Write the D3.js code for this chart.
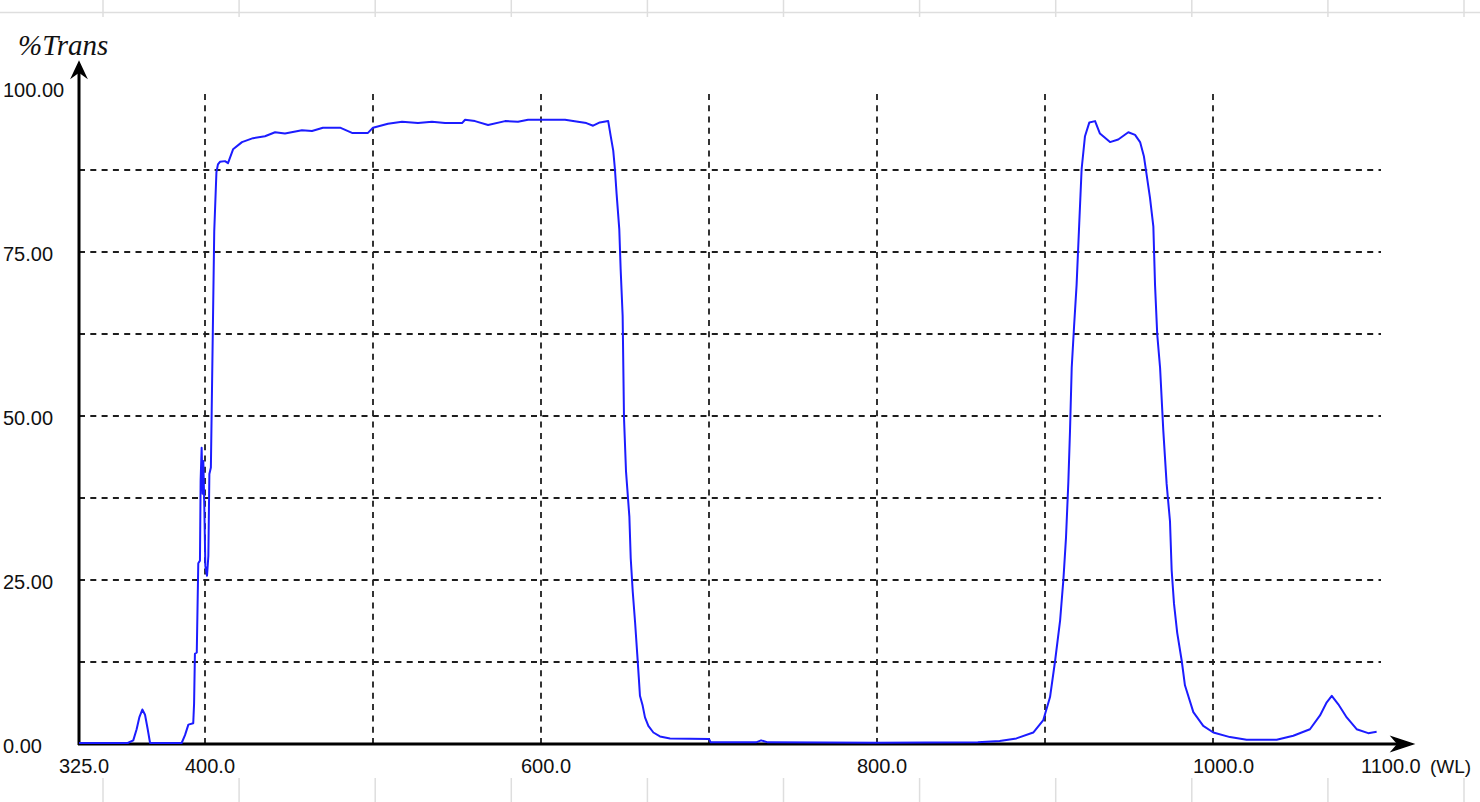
<!DOCTYPE html>
<html>
<head>
<meta charset="utf-8">
<script src="https://d3js.org/d3.v7.min.js"></script>
<style>
  html, body { margin: 0; padding: 0; background: #fff; }
  svg { display: block; }
  .tick-label { font-family: "Liberation Sans", Arial, sans-serif; font-size: 20px; fill: #111; }
</style>
</head>
<body>
<div id="trans-chart"></div>
<script>
// Spectrum: wavelength (nm) and %T
var wavelengths = [
  325, 354, 357.3, 359.3, 360.9, 362.7, 364.3, 365.9, 367.3, 386.1,
  388.1, 390.1, 393, 393.5, 394, 395.1, 396, 397, 397.4, 398,
  398.6, 399, 399.6, 400.2, 401.2, 402, 402.6, 403.5, 404.5, 405.5,
  406.8, 407.7, 408.9, 411.9, 413.7, 416.7, 422, 428.6, 435.7, 441.7,
  447.6, 457.7, 463.7, 470.2, 480.4, 487.5, 497, 500, 508.9, 517.3,
  526.8, 535.1, 542.9, 553, 554.8, 560.7, 568.5, 578.6, 586.3, 592.3,
  602.4, 614.3, 622, 627, 631, 635, 640, 641.5, 643, 644,
  645, 646.6, 647.4, 648.6, 649.4, 650.6, 652.6, 653.4, 654.6, 656,
  657.3, 658.2, 658.9, 660.5, 661.9, 663.9, 666.9, 670.8, 676.8, 700,
  701, 728, 731, 735, 800, 860, 873, 883, 893, 899,
  903, 906, 909, 911, 912.5, 913.9, 914.9, 915.9, 917.3, 918.8,
  920.4, 921.8, 923.8, 926.4, 929.8, 932.7, 938.7, 943.6, 949.6, 953.6,
  956.6, 958.9, 960.5, 962.5, 964.5, 965.5, 966.8, 968.5, 970.4, 972.4,
  974.4, 975.4, 976.8, 978.7, 981.4, 983.3, 988.3, 994.2, 1000.2, 1010.1,
  1020, 1037.9, 1047.8, 1057.7, 1063.7, 1067.7, 1070.7, 1074.6, 1079.6, 1085.5,
  1092.4, 1097.4
];

var transmittance = [
  0, 0, 0.4, 2.1, 3.9, 5.1, 4.3, 2.1, 0, 0,
  1.2, 2.8, 3.0, 6.0, 13.6, 13.8, 27.4, 27.8, 40, 45,
  38, 43, 36, 27, 25.5, 28.5, 41, 42, 60, 78,
  87, 88.2, 88.6, 88.7, 88.4, 90.5, 91.6, 92.2, 92.5, 93.1,
  92.9, 93.4, 93.3, 93.8, 93.8, 93.0, 93.0, 93.8, 94.4, 94.7,
  94.5, 94.7, 94.5, 94.5, 95, 94.8, 94.2, 94.8, 94.7, 95,
  95, 95, 94.7, 94.5, 94.1, 94.6, 94.8, 92.5, 90.3, 87.5,
  83.7, 78.3, 72.3, 65.1, 49.6, 41.4, 34.5, 28.2, 23.1, 18.4,
  13.5, 10, 7.2, 5.7, 3.9, 2.6, 1.6, 1.0, 0.7, 0.6,
  0.1, 0.1, 0.4, 0.1, 0.05, 0.1, 0.3, 0.7, 1.6, 3.5,
  7, 12.5, 18.7, 25.1, 31.3, 39.8, 47.7, 57.2, 63.5, 69.8,
  79.3, 87.5, 92.5, 94.6, 94.8, 92.9, 91.6, 92, 93.1, 92.7,
  91.6, 89.4, 86.6, 83.1, 78.7, 69.8, 62.3, 57.2, 47.7, 39.5,
  33.8, 26.3, 21.2, 16.8, 12.5, 8.8, 4.7, 2.6, 1.6, 0.9,
  0.5, 0.5, 1.1, 2.1, 4.2, 6.2, 7.2, 5.9, 3.9, 2.1,
  1.5, 1.7
];

var xTicks = [325, 400, 600, 800, 1000, 1100];
var yTicks = [0, 25, 50, 75, 100];
var xGrid = [400, 500, 600, 700, 800, 900, 1000];
var yGrid = [12.5, 25, 37.5, 50, 62.5, 75, 87.5];

var width = 1480,
    height = 802;

var svg = d3.select('#trans-chart')
            .append('svg')
            .attr('width', width)
            .attr('height', height);

// Scales
var x = d3.scaleLinear()
          .domain([325, 1100])
          .range([79, 1381]);

var y = d3.scaleLinear()
          .domain([0, 100])
          .range([744, 88]);

// Faint sheet lines behind the capture
var sheetCols = d3.range(11).map(function(i) { return 103 + i * 136.1; });

svg.append('line')
   .attr('x1', 0).attr('x2', width)
   .attr('y1', 12.5).attr('y2', 12.5)
   .attr('stroke', '#dedede')
   .attr('stroke-width', 1.5);

svg.selectAll('.sheet-top')
   .data(sheetCols)
   .enter()
   .append('line')
   .attr('class', 'sheet-top')
   .attr('x1', function(d) { return d; })
   .attr('x2', function(d) { return d; })
   .attr('y1', 0).attr('y2', 17)
   .attr('stroke', '#dedede')
   .attr('stroke-width', 1.5);

svg.selectAll('.sheet-bottom')
   .data(sheetCols)
   .enter()
   .append('line')
   .attr('class', 'sheet-bottom')
   .attr('x1', function(d) { return d; })
   .attr('x2', function(d) { return d; })
   .attr('y1', 778).attr('y2', height)
   .attr('stroke', '#dedede')
   .attr('stroke-width', 1.5);

// Dashed grid
svg.selectAll('.grid-v')
   .data(xGrid)
   .enter()
   .append('line')
   .attr('class', 'grid-v')
   .attr('x1', function(d) { return x(d); })
   .attr('x2', function(d) { return x(d); })
   .attr('y1', y(0))
   .attr('y2', y(99.4))
   .attr('stroke', '#1e1e1e')
   .attr('stroke-width', 1.8)
   .attr('stroke-dasharray', '6,5.3');

svg.selectAll('.grid-h')
   .data(yGrid)
   .enter()
   .append('line')
   .attr('class', 'grid-h')
   .attr('x1', x(325))
   .attr('x2', x(1100))
   .attr('y1', function(d) { return y(d); })
   .attr('y2', function(d) { return y(d); })
   .attr('stroke', '#1e1e1e')
   .attr('stroke-width', 1.8)
   .attr('stroke-dasharray', '6,5.3');

// Axes with arrow heads
var x0 = x(325), y0 = y(0);

svg.append('line')
   .attr('x1', x0).attr('x2', x0)
   .attr('y1', y0 + 1).attr('y2', 66)
   .attr('stroke', '#000')
   .attr('stroke-width', 3);

svg.append('line')
   .attr('x1', x0 - 1).attr('x2', 1408)
   .attr('y1', y0).attr('y2', y0)
   .attr('stroke', '#000')
   .attr('stroke-width', 3);

svg.append('path')
   .attr('d', 'M' + x0 + ',62 L' + (x0 - 7) + ',77 L' + x0 + ',72 L' + (x0 + 7) + ',77 Z')
   .attr('fill', '#000')
   .attr('stroke', '#000')
   .attr('stroke-width', 1.5)
   .attr('stroke-linejoin', 'miter');

svg.append('path')
   .attr('d', 'M1413,' + y0 + ' L1392,' + (y0 - 7) + ' L1398,' + y0 + ' L1392,' + (y0 + 7) + ' Z')
   .attr('fill', '#000')
   .attr('stroke', '#000')
   .attr('stroke-width', 1.5);

// Spectrum line, drawn over the axis like the instrument print
var points = wavelengths.map(function(w, i) { return [w, transmittance[i]]; });

var line = d3.line()
             .x(function(d) { return x(d[0]); })
             .y(function(d) { return y(d[1]) - 1; });

svg.append('path')
   .datum(points)
   .attr('d', line)
   .attr('fill', 'none')
   .attr('stroke', '#1c1cff')
   .attr('stroke-width', 2)
   .attr('stroke-linejoin', 'round');

// Tick labels
svg.selectAll('.y-label')
   .data(yTicks)
   .enter()
   .append('text')
   .attr('class', 'tick-label y-label')
   .attr('x', 3)
   .attr('y', function(d) { return y(d) + 2; })
   .attr('dy', '0.35em')
   .text(function(d) { return d.toFixed(2); });

svg.selectAll('.x-label')
   .data(xTicks)
   .enter()
   .append('text')
   .attr('class', 'tick-label x-label')
   .attr('x', function(d) { return x(d) - 20; })
   .attr('y', 773)
   .text(function(d) { return d.toFixed(1); });

svg.append('text')
   .attr('class', 'tick-label')
   .attr('x', 1430)
   .attr('y', 773)
   .style('font-size', '19px')
   .text('(WL)');

// Axis title
svg.append('text')
   .attr('x', 18)
   .attr('y', 55)
   .style('font-family', '"Liberation Serif", "Times New Roman", serif')
   .style('font-style', 'italic')
   .style('font-size', '29px')
   .style('fill', '#111')
   .text('%Trans');
</script>
</body>
</html>
